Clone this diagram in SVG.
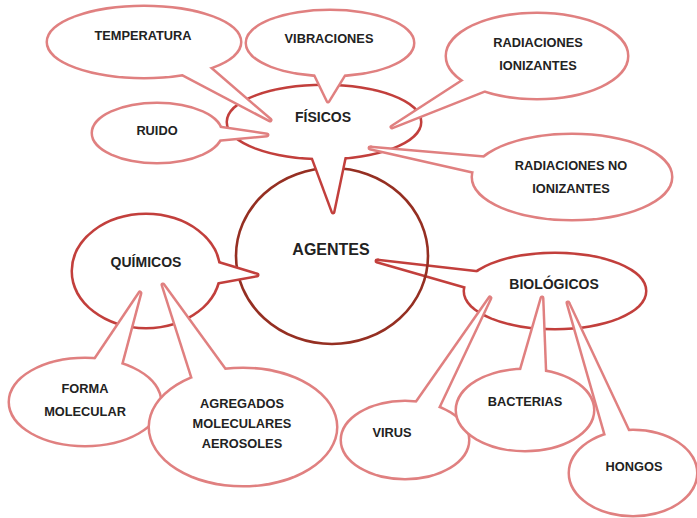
<svg xmlns="http://www.w3.org/2000/svg" width="697" height="518" viewBox="0 0 697 518">
<style>
.o{fill:#fff;stroke-width:5;stroke-linejoin:round}
.f{fill:#fff;stroke:none}
.leaf .o{stroke:#e08080}
.mid .o{stroke:#c23f3c}
.ring{fill:none;stroke:#952f22;stroke-width:2.6}
text{font-family:"Liberation Sans",Arial,sans-serif;font-weight:bold;fill:#222;text-anchor:middle;font-size:12.8px}
.mid text{font-size:14px}
.root text{font-size:16px}
</style>
<rect width="697" height="518" fill="#fff"/>
<g id="connectors"></g>

<g id="n-biologicos" class="mid">
  <ellipse class="o" cx="555" cy="291" rx="90" ry="37"/>
  <polygon class="o" points="482,273 377,261 471,288"/>
  <ellipse class="f" cx="555" cy="291" rx="90" ry="37"/>
  <polygon class="f" points="482,273 377,261 471,288"/>
  <text x="554" y="289">BIOLÓGICOS</text>
</g>

<g id="n-agentes" class="root">
  <ellipse class="ring" cx="332" cy="256" rx="96" ry="88"/>
  <text x="331" y="255">AGENTES</text>
</g>

<g id="n-fisicos" class="mid">
  <ellipse class="o" cx="324" cy="122" rx="96" ry="36"/>
  <polygon class="o" points="310,150 333,212 346,150"/>
  <ellipse class="f" cx="324" cy="122" rx="96" ry="36"/>
  <polygon class="f" points="310,150 333,212 346,150"/>
  <text x="323" y="122">FÍSICOS</text>
</g>

<g id="n-quimicos" class="mid">
  <ellipse class="o" cx="146" cy="271" rx="73" ry="56"/>
  <polygon class="o" points="214,262 257,275 213,283"/>
  <ellipse class="f" cx="146" cy="271" rx="73" ry="56"/>
  <polygon class="f" points="214,262 257,275 213,283"/>
  <text x="146" y="267">QUÍMICOS</text>
</g>

<g id="n-temperatura" class="leaf">
  <ellipse class="o" cx="144" cy="42" rx="96" ry="35"/>
  <polygon class="o" points="205,64 270,120 175,70"/>
  <ellipse class="f" cx="144" cy="42" rx="96" ry="35"/>
  <polygon class="f" points="205,64 270,120 175,70"/>
  <text x="143" y="40">TEMPERATURA</text>
</g>

<g id="n-vibraciones" class="leaf">
  <ellipse class="o" cx="330" cy="43" rx="83" ry="32"/>
  <polygon class="o" points="313,70 328,101 347,70"/>
  <ellipse class="f" cx="330" cy="43" rx="83" ry="32"/>
  <polygon class="f" points="313,70 328,101 347,70"/>
  <text x="329" y="43">VIBRACIONES</text>
</g>

<g id="n-ruido" class="leaf">
  <ellipse class="o" cx="157" cy="133" rx="64" ry="29"/>
  <polygon class="o" points="213,127 267,135 213,140"/>
  <ellipse class="f" cx="157" cy="133" rx="64" ry="29"/>
  <polygon class="f" points="213,127 267,135 213,140"/>
  <text x="157" y="135">RUIDO</text>
</g>

<g id="n-rad-ionizantes" class="leaf">
  <ellipse class="o" cx="537" cy="56" rx="90" ry="42"/>
  <polygon class="o" points="466,79 392,127 488,89"/>
  <ellipse class="f" cx="537" cy="56" rx="90" ry="42"/>
  <polygon class="f" points="466,79 392,127 488,89"/>
  <text x="538" y="47">RADIACIONES</text>
  <text x="538" y="70">IONIZANTES</text>
</g>

<g id="n-rad-no-ionizantes" class="leaf">
  <ellipse class="o" cx="572" cy="177" rx="99" ry="42"/>
  <polygon class="o" points="487,158 370,148 476,172"/>
  <ellipse class="f" cx="572" cy="177" rx="99" ry="42"/>
  <polygon class="f" points="487,158 370,148 476,172"/>
  <text x="571" y="170">RADIACIONES NO</text>
  <text x="571" y="193">IONIZANTES</text>
</g>

<g id="n-forma-molecular" class="leaf">
  <ellipse class="o" cx="85" cy="402" rx="75" ry="43"/>
  <polygon class="o" points="93,363 140,293 120,368"/>
  <ellipse class="f" cx="85" cy="402" rx="75" ry="43"/>
  <polygon class="f" points="93,363 140,293 120,368"/>
  <text x="85" y="393">FORMA</text>
  <text x="85" y="416">MOLECULAR</text>
</g>

<g id="n-agregados" class="leaf">
  <ellipse class="o" cx="243" cy="427" rx="93" ry="58"/>
  <polygon class="o" points="194,382 163,285 227,373"/>
  <ellipse class="f" cx="243" cy="427" rx="93" ry="58"/>
  <polygon class="f" points="194,382 163,285 227,373"/>
  <text x="242" y="408">AGREGADOS</text>
  <text x="242" y="428">MOLECULARES</text>
  <text x="242" y="448">AEROSOLES</text>
</g>

<g id="n-virus" class="leaf">
  <ellipse class="o" cx="405" cy="440" rx="63" ry="38"/>
  <polygon class="o" points="413,408 490,298 436,412"/>
  <ellipse class="f" cx="405" cy="440" rx="63" ry="38"/>
  <polygon class="f" points="413,408 490,298 436,412"/>
  <text x="392" y="437">VIRUS</text>
</g>

<g id="n-bacterias" class="leaf">
  <ellipse class="o" cx="525" cy="410" rx="68" ry="40"/>
  <polygon class="o" points="520,374 542,298 545,376"/>
  <ellipse class="f" cx="525" cy="410" rx="68" ry="40"/>
  <polygon class="f" points="520,374 542,298 545,376"/>
  <text x="525" y="406">BACTERIAS</text>
</g>

<g id="n-hongos" class="leaf">
  <ellipse class="o" cx="633" cy="473" rx="63" ry="42"/>
  <polygon class="o" points="607,439 568,303 630,435"/>
  <ellipse class="f" cx="633" cy="473" rx="63" ry="42"/>
  <polygon class="f" points="607,439 568,303 630,435"/>
  <text x="634" y="471">HONGOS</text>
</g>
</svg>
